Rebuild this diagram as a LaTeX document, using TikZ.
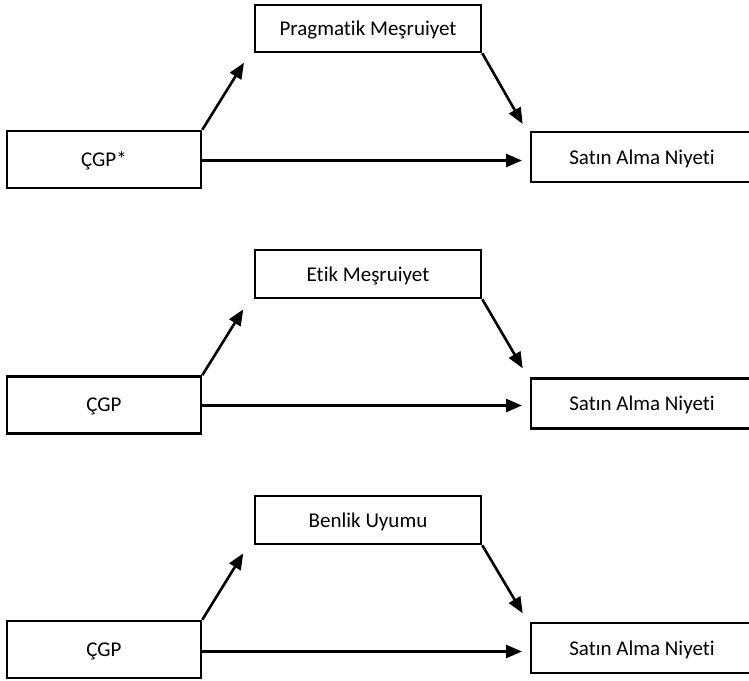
\documentclass[tikz,border=0pt]{standalone}
\usepackage{fontspec}
\setmainfont{Carlito}[Ligatures=NoCommon]
\usetikzlibrary{arrows.meta}

\begin{document}
\begin{tikzpicture}[
		x=1pt, y=-1pt,
		box/.style={draw, line width=2.6pt, inner sep=0pt, text depth=0pt, font=\fontsize{21}{25}\selectfont},
		srcbox/.style={box, minimum width=194pt, minimum height=57pt},
		medbox/.style={box, minimum width=226pt, minimum height=47pt},
		outbox/.style={box, minimum width=222pt, minimum height=50pt},
		link/.style={line width=2.6pt, -{Triangle[length=16pt,width=13pt]}}
	]
	\useasboundingbox (0,0) rectangle (749,680);

	% pragmatik
	\node[srcbox] (cgpA) at (104,159.5) {ÇGP*};
	\node[medbox] (medA) at (368,28.5) {Pragmatik Meşruiyet};
	\node[outbox] (sinA) at (642,157) {Satın Alma Niyeti};
	\coordinate (upA) at (244,62.7);
	\coordinate (downA) at (522.7,124);
	\coordinate (hA) at (522,160.5);
	\draw[link] (cgpA.north east) -- (upA);
	\draw[link] (medA.south east) -- (downA);
	\draw[link] (cgpA.east |- hA) -- (hA);

	% etik
	\node[srcbox] (cgpB) at (104,405) {ÇGP};
	\node[medbox, minimum height=48pt] (medB) at (368,274) {Etik Meşruiyet};
	\node[outbox] (sinB) at (642,403.5) {Satın Alma Niyeti};
	\coordinate (upB) at (243.3,309.3);
	\coordinate (downB) at (522.7,368.3);
	\coordinate (hB) at (522,405.5);
	\draw[link] (cgpB.north east) -- (upB);
	\draw[link] (medB.south east) -- (downB);
	\draw[link] (cgpB.east |- hB) -- (hB);

	% benlik
	\node[srcbox] (cgpC) at (104,649.5) {ÇGP};
	\node[medbox, minimum height=48pt] (medC) at (368,520) {Benlik Uyumu};
	\node[outbox] (sinC) at (642,648) {Satın Alma Niyeti};
	\coordinate (upC) at (243.3,553.3);
	\coordinate (downC) at (522.7,613.3);
	\coordinate (hC) at (522,651.5);
	\draw[link] (cgpC.north east) -- (upC);
	\draw[link] (medC.south east) -- (downC);
	\draw[link] (cgpC.east |- hC) -- (hC);
\end{tikzpicture}
\end{document}
